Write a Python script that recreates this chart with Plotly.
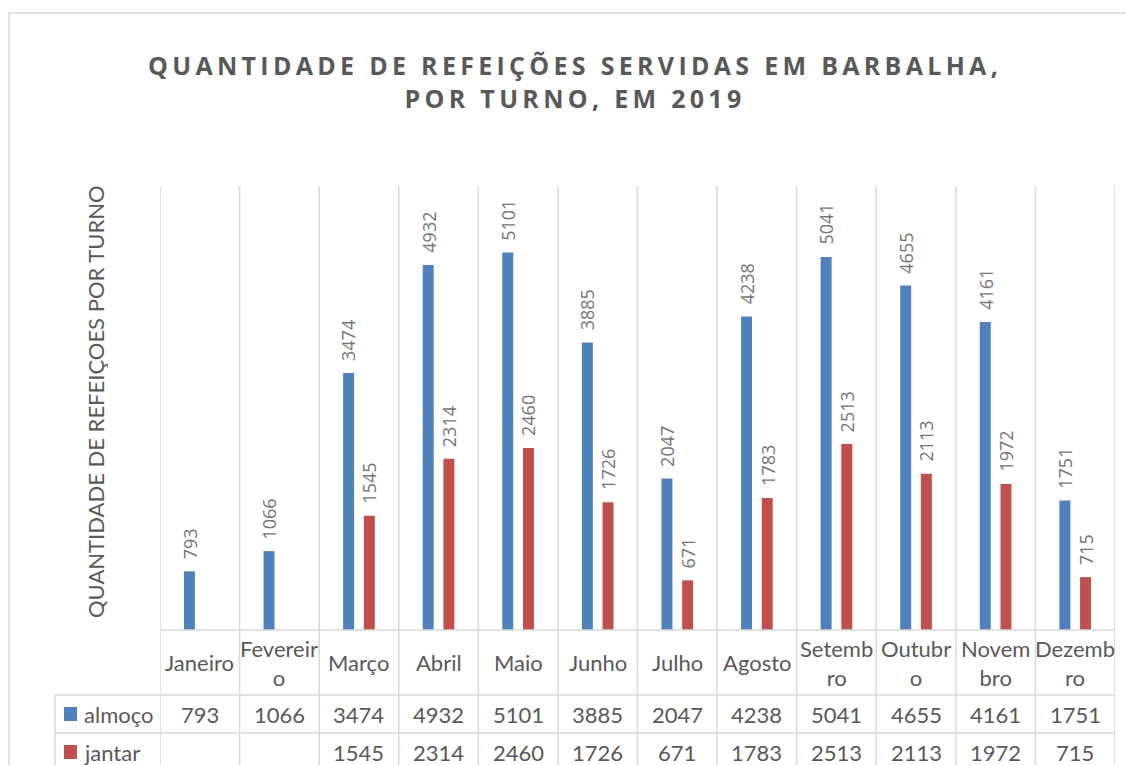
import plotly.graph_objects as go

# dados (refeições servidas em Barbalha, 2019)
meses = ["Janeiro", "Fevereiro", "Março", "Abril", "Maio", "Junho",
         "Julho", "Agosto", "Setembro", "Outubro", "Novembro", "Dezembro"]
rotulos = ["Janeiro", "Fevereir<br>o", "Março", "Abril", "Maio", "Junho",
           "Julho", "Agosto", "Setemb<br>ro", "Outubr<br>o", "Novem<br>bro", "Dezemb<br>ro"]
almoco = [793, 1066, 3474, 4932, 5101, 3885, 2047, 4238, 5041, 4655, 4161, 1751]
jantar = [None, None, 1545, 2314, 2460, 1726, 671, 1783, 2513, 2113, 1972, 715]
series = [("almoço", almoco, "#4F81BD"), ("jantar", jantar, "#C0504D")]

W, H = 1126, 765
L, R, T, B = 160, 11, 186, 135
GRID = "#d9d9d9"
TXT = "#595959"
FONT = "Lato"


def py(y_pix):
    # pixel vertical -> coordenada paper
    return ((H - B) - y_pix) / (H - T - B)


def px(x_pix):
    return (x_pix - L) / (W - L - R)


fig = go.Figure()
for nome, vals, cor in series:
    fig.add_trace(go.Bar(x=meses, y=vals, name=nome, marker_color=cor,
                         marker_line_width=0, showlegend=False))

shapes = []
annotations = []

# moldura do gráfico
shapes.append(dict(type="rect", xref="paper", yref="paper",
                   x0=px(9), x1=px(1135), y0=py(780), y1=py(13),
                   line=dict(color=GRID, width=1.5), layer="below"))

# linhas verticais (grade + tabela)
n = len(meses)
for i in range(n + 1):
    shapes.append(dict(type="line", xref="x", yref="paper",
                       x0=i - 0.5, x1=i - 0.5, y0=1, y1=py(775),
                       line=dict(color=GRID, width=1.5), layer="below"))
shapes.append(dict(type="line", xref="paper", yref="paper",
                   x0=px(55), x1=px(55), y0=py(695), y1=py(775),
                   line=dict(color=GRID, width=1.5)))
# linhas horizontais
shapes.append(dict(type="line", xref="x", yref="paper", x0=-0.5, x1=n - 0.5,
                   y0=0, y1=0, line=dict(color=GRID, width=1.5)))
for yl in (695, 733, 771):
    shapes.append(dict(type="line", xref="paper", yref="paper",
                       x0=px(55), x1=1, y0=py(yl), y1=py(yl),
                       line=dict(color=GRID, width=1.5)))

# rótulos das barras
for k, (nome, vals, cor) in enumerate(series):
    shift = -10.4 if k == 0 else 10.4
    for m, v in zip(meses, vals):
        if v is None:
            continue
        annotations.append(dict(x=m, y=v, xref="x", yref="y", text=str(v),
                                textangle=-90, showarrow=False, xanchor="center",
                                yanchor="bottom", xshift=shift, yshift=10,
                                font=dict(family="Open Sans", size=18, color="#757575")))

# linha de categorias da tabela
for m, r in zip(meses, rotulos):
    annotations.append(dict(x=m, y=py(662.5), xref="x", yref="paper", text=r,
                            showarrow=False, xanchor="center", yanchor="middle",
                            font=dict(family=FONT, size=22, color=TXT)))

# linhas de valores da tabela
row_y = [714, 752]
for (nome, vals, cor), yc in zip(series, row_y):
    shapes.append(dict(type="rect", xref="paper", yref="paper",
                       x0=px(64), x1=px(77), y0=py(yc + 7), y1=py(yc - 7),
                       fillcolor=cor, line=dict(width=0)))
    annotations.append(dict(x=px(82), y=py(yc), xref="paper", yref="paper",
                            text=nome, showarrow=False, xanchor="left",
                            yanchor="middle", font=dict(family=FONT, size=22, color=TXT)))
    for m, v in zip(meses, vals):
        annotations.append(dict(x=m, y=py(yc), xref="x", yref="paper",
                                text="" if v is None else str(v), showarrow=False,
                                xanchor="center", yanchor="middle",
                                font=dict(family=FONT, size=22, color=TXT)))

# título do eixo y
annotations.append(dict(x=px(95), y=py(402), xref="paper", yref="paper",
                        text="QUANTIDADE DE REFEIÇOES POR TURNO", textangle=-90,
                        showarrow=False, xanchor="center", yanchor="middle",
                        font=dict(family=FONT, size=22, color=TXT)))

# título (com espaçamento entre letras)
titulo = ('<span style="letter-spacing:4.3px"><b>QUANTIDADE DE REFEIÇÕES SERVIDAS EM BARBALHA,'
          '<br>POR TURNO, EM 2019</b></span>')
annotations.append(dict(x=px(575), y=py(81), xref="paper", yref="paper",
                        text=titulo, showarrow=False, xanchor="center", yanchor="middle",
                        font=dict(family="Open Sans", size=25, color=TXT)))

fig.update_layout(
    width=W, height=H,
    margin=dict(l=L, r=R, t=T, b=B),
    paper_bgcolor="white", plot_bgcolor="white",
    barmode="group", bargap=0.48, bargroupgap=0.47,
    xaxis=dict(showticklabels=False, showgrid=False, zeroline=False,
               range=[-0.5, n - 0.5], fixedrange=True),
    yaxis=dict(range=[0, 6000], showticklabels=False, showgrid=False,
               zeroline=False, fixedrange=True),
    shapes=shapes, annotations=annotations,
)

fig.write_html("out.html", config={"displayModeBar": False},
               post_script="document.body.style.margin='0';")
